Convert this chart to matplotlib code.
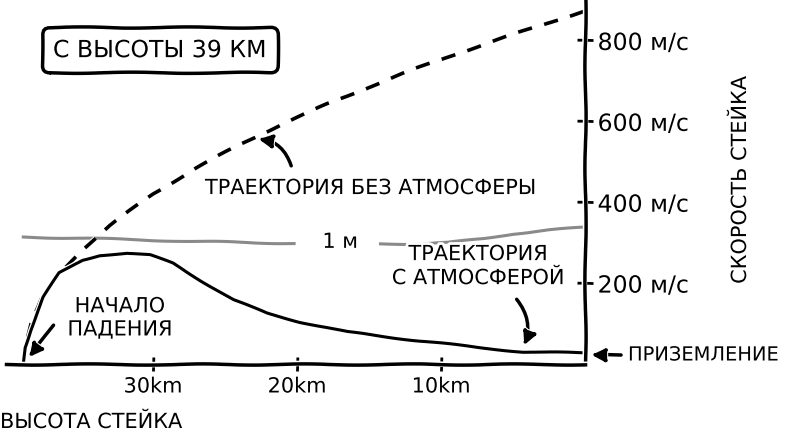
import matplotlib
matplotlib.use('Agg')
import matplotlib.pyplot as plt
import numpy as np

# высота стейка, км (падение с 39 км до земли) и скорость, м/с
h_no_air = [39, 38.9, 38.5, 37.6, 36.5, 35, 33, 30, 27, 24, 21, 18, 15, 12, 9, 6, 3, 0]
v_no_air = [0, 45, 99, 170, 221, 280, 343, 420, 485, 542, 594, 641, 685, 727, 766, 803, 838, 874]

h_air = [39, 38.9, 38.5, 37.6, 36.5, 34.9, 33.7, 31.8, 30.2, 28.6, 26.7, 24.4, 22.1, 19.8, 16.5, 11.9, 7.3, 4.3, 0]
v_air = [0, 40, 84, 165, 225, 257, 269, 274, 269, 249, 207, 158, 126, 104, 79, 59, 40, 30, 27]

# серая линия "1 м" (с разрывом под подписью)
h_1m = [39, 33, 27, 20.2, 17, 14.2, 12, 9.5, 7, 5, 2.5, 0]
v_1m = [314, 309, 303, 298, np.nan, 297, 297, 300, 310, 322, 331, 338]

x_ticks = [30, 20, 10]
x_labels = ['30km', '20km', '10km']
y_ticks = [200, 400, 600, 800]
y_labels = ['200 м/с', '400 м/с', '600 м/с', '800 м/с']

arrow = dict(arrowstyle='-|>', color='k', lw=2.5, mutation_scale=20, shrinkA=0, shrinkB=0)

with plt.xkcd(scale=0.6, length=120, randomness=2):
    plt.rcParams['font.family'] = ['DejaVu Sans']
    fig = plt.figure(figsize=(7.9, 4.38), dpi=100)
    ax = fig.add_axes([0.0076, 0.169, 0.733, 0.831])

    ax.plot(h_1m, v_1m, color='#8a8a8a', lw=2.2)
    ax.plot(h_no_air, v_no_air, color='k', lw=2.6, dashes=(4, 3.5))
    ax.plot(h_air, v_air, color='k', lw=2.2)

    ax.set_xlim(40.2, 0)
    ax.set_ylim(0, 900)

    ax.spines['left'].set_visible(False)
    ax.spines['top'].set_visible(False)
    ax.spines['bottom'].set_linewidth(2.5)
    ax.spines['right'].set_linewidth(2.5)

    ax.set_xticks(x_ticks)
    ax.set_xticklabels(x_labels)
    ax.set_yticks(y_ticks)
    ax.set_yticklabels(y_labels)
    ax.tick_params(axis='x', direction='inout', length=10, width=2, pad=4, labelsize=15)
    ax.tick_params(axis='y', direction='inout', length=12, width=2, pad=3, labelsize=17,
                   left=False, labelleft=False, right=True, labelright=True)

    ax.text(29.5, 776, 'С ВЫСОТЫ 39 КМ', ha='center', va='center', fontsize=17,
            bbox=dict(boxstyle='round,pad=0.45,rounding_size=0.3', fc='white', ec='k', lw=2.5))

    ax.text(17.0, 302, '1 м', ha='center', va='center', fontsize=15)

    ax.text(32.3, 114, 'НАЧАЛО\nПАДЕНИЯ', ha='center', va='center', fontsize=15, linespacing=1.2)
    ax.annotate('', xy=(38.6, 16), xytext=(36.9, 96), arrowprops=arrow)

    ax.text(14.9, 435, 'ТРАЕКТОРИЯ БЕЗ АТМОСФЕРЫ', ha='center', va='center', fontsize=15)
    ax.annotate('', xy=(22.7, 556), xytext=(20.4, 490),
                arrowprops=dict(arrow, connectionstyle='arc3,rad=0.3'))

    ax.text(7.43, 242, 'ТРАЕКТОРИЯ\nС АТМОСФЕРОЙ', ha='center', va='center', fontsize=15,
            linespacing=1.25)
    ax.annotate('', xy=(4.24, 45), xytext=(4.75, 160),
                arrowprops=dict(arrow, connectionstyle='arc3,rad=-0.3'))

    ax.annotate('ПРИЗЕМЛЕНИЕ', xy=(591, 83), xytext=(628, 83), xycoords='figure pixels',
                ha='left', va='center', fontsize=14,
                arrowprops=dict(arrow, shrinkA=3))

    fig.text(740 / 790, 1 - 180 / 438, 'СКОРОСТЬ СТЕЙКА', rotation=90,
             ha='center', va='center', fontsize=15)
    fig.text(0.0, 1 - 422 / 438, 'ВЫСОТА СТЕЙКА', ha='left', va='center', fontsize=15)

    fig.savefig('out.png', dpi=100)
